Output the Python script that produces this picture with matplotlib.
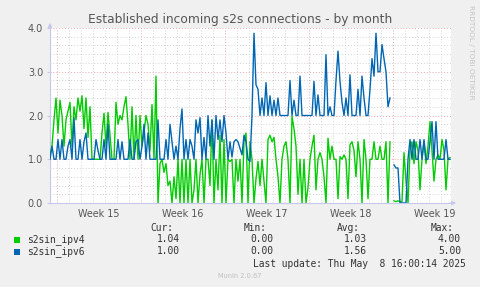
import numpy as np
import matplotlib.pyplot as plt
from matplotlib.patches import Rectangle

# samples every 4 hours, starting at the left edge of the graph
step_h = 4
nan = np.nan

ipv4 = [1.1, 1.3, 1.9, 2.4, 1.6, 2.35, 2.0, 1.3, 1.9, 2.1,
        2.3, 1.3, 2.2, 1.9, 2.4, 2.1, 2.45, 1.7, 2.4, 1.5,
        2.2, 1.0, 1.0, 1.0, 1.0, 1.0, 1.6, 2.05, 1.3, 2.07,
        1.55, 1.0, 1.0, 2.3, 1.8, 2.0, 1.9, 2.2, 2.43, 1.8,
        1.0, 2.2, 1.0, 2.0, 1.0, 2.0, 1.3, 1.6, 2.0, 1.8,
        1.2, 2.25, 1.0, 2.9, 0.0, 0.9, 1.0, 0.7, 0.9, 0.4,
        0.5, 0.0, 0.6, 0.1, 1.0, 0.0, 1.0, 0.0, 1.0, 0.0,
        1.0, 0.0, 0.3, 1.0, 0.0, 0.65, 1.0, 0.0, 1.0, 1.0,
        0.4, 1.9, 0.0, 1.0, 0.3, 1.55, 0.0, 1.45, 0.0, 1.0,
        0.95, 1.0, 0.0, 1.0, 0.5, 1.0, 0.0, 1.4, 1.6, 0.0,
        1.4, 1.0, 0.0, 0.55, 0.95, 0.4, 1.0, 0.5, 0.0, 1.45,
        1.55, 1.4, 1.5, 1.0, 0.6, 0.0, 1.0, 1.3, 1.4, 1.0,
        0.0, 1.98, 1.7, 1.3, 0.2, 1.0, 0.0, 1.0, 0.0, 0.35,
        1.0, 1.3, 1.55, 0.3, 1.0, 1.15, 1.0, 0.6, 0.0, 1.48,
        1.0, 1.3, 1.0, 1.0, 0.1, 1.06, 1.0, 1.1, 1.0, 0.1,
        1.33, 1.4, 1.2, 0.6, 1.4, 1.0, 0.0, 1.45, 1.0, 0.1,
        1.0, 1.0, 1.4, 1.0, 1.0, 1.3, 1.0, 1.0, 1.4, 0.0,
        1.4, nan, 0.05, 0.03, 0.05, 0.03, 0.03, 1.15, 0.5, 0.0,
        1.2, 1.4, 0.9, 1.4, 1.2, 0.3, 1.0, 1.4, 0.9, 1.3,
        1.86, 1.2, 0.5, 1.0, 1.1, 1.0, 1.45, 1.2, 0.3, 1.0,
        1.04]

ipv6 = [1.0, 1.3, 1.0, 1.0, 1.45, 1.0, 1.45, 1.0, 1.0, 1.3,
        1.45, 1.0, 1.95, 1.0, 1.0, 1.45, 1.0, 1.4, 1.6, 1.0,
        1.0, 1.0, 1.0, 1.45, 1.2, 1.0, 1.0, 1.45, 1.0, 1.8,
        1.0, 1.0, 1.0, 1.0, 1.45, 1.0, 1.4, 1.0, 1.0, 1.0,
        1.45, 1.0, 1.0, 1.4, 1.45, 1.0, 1.3, 1.8, 1.0, 1.6,
        1.0, 1.0, 1.0, 1.0, 1.9, 1.0, 1.0, 1.0, 1.45, 1.0,
        1.8, 1.4, 1.0, 1.3, 1.0, 1.7, 2.15, 1.0, 1.45, 1.0,
        1.45, 1.3, 1.0, 1.9, 1.6, 1.95, 1.0, 1.5, 1.0, 2.0,
        1.3, 1.9, 1.0, 2.0, 1.45, 1.9, 1.4, 2.0, 1.6, 1.0,
        1.4, 1.05, 1.4, 1.45, 1.4, 1.25, 1.1, 1.55, 1.4, 1.0,
        0.95, 2.0, 3.88, 2.7, 2.6, 2.0, 2.4, 2.0, 2.75, 2.0,
        2.45, 2.0, 2.35, 2.0, 2.4, 2.0, 2.0, 2.0, 2.0, 2.0,
        2.8, 2.0, 2.35, 2.0, 2.0, 2.9, 2.0, 2.0, 2.0, 2.0,
        2.0, 2.0, 2.78, 2.0, 2.47, 2.0, 2.0, 2.0, 3.39, 2.0,
        2.2, 2.0, 2.0, 2.8, 3.47, 2.78, 2.3, 2.0, 2.4, 2.0,
        2.93, 2.0, 2.0, 2.0, 2.6, 2.0, 2.9, 2.4, 2.0, 2.0,
        2.6, 3.3, 2.9, 3.88, 3.0, 3.0, 3.62, 3.3, 3.0, 2.2,
        2.4, nan, 0.87, 0.8, 0.8, 0.0, 0.0, 0.0, 0.0, 1.0,
        1.45, 1.0, 1.45, 1.0, 1.0, 1.45, 1.0, 1.45, 1.0, 1.0,
        1.4, 1.86, 1.0, 1.86, 1.0, 1.0, 1.0, 1.0, 1.45, 1.0,
        1.0]

week_labels = ['Week 15', 'Week 16', 'Week 17', 'Week 18', 'Week 19']
first_monday_h = 14
span_h = 802

names = ['s2sin_ipv4', 's2sin_ipv6']
colors = ['#00cc00', '#0066b3']
cur = ['1.04', '1.00']
mins = ['0.00', '0.00']
avgs = ['1.03', '1.56']
maxs = ['4.00', '5.00']

W, H = 481, 287
fig = plt.figure(figsize=(W / 100, H / 100), dpi=100, facecolor='#f0f0f0')
ax = fig.add_axes([50 / W, 84 / H, 401 / W, 175 / H])
ax.set_facecolor('white')

t = np.arange(len(ipv4)) * step_h
ax.plot(t, ipv4, color=colors[0], lw=1.0, zorder=3)
ax.plot(t, ipv6, color=colors[1], lw=1.0, zorder=4)

# grid: days and 0.2 steps dotted grey, weeks and units dotted red
dot = (0, (1, 2))
for h in np.arange(first_monday_h, span_h, 24):
    major = (h - first_monday_h) % 168 == 0
    ax.axvline(h, color='#e8a8a8' if major else '#d4d4d4', ls=dot, lw=0.7, zorder=1)
for v in np.arange(0.2, 4.01, 0.2):
    major = abs(v - round(v)) < 1e-6
    ax.axhline(v, color='#e8a8a8' if major else '#d4d4d4', ls=dot, lw=0.7, zorder=1)

ax.set_xlim(0, span_h)
ax.set_ylim(0, 4)
for s in ['top', 'right']:
    ax.spines[s].set_visible(False)
for s in ['left', 'bottom']:
    ax.spines[s].set_color('#c8c8ee')
    ax.spines[s].set_linewidth(0.8)
ax.annotate('', xy=(0, 1.045), xytext=(0, 0.99), xycoords='axes fraction',
            arrowprops=dict(arrowstyle='-|>', color='#c8c8ee', lw=0.8, mutation_scale=6))
ax.annotate('', xy=(1.02, 0), xytext=(0.99, 0), xycoords='axes fraction',
            arrowprops=dict(arrowstyle='-|>', color='#c8c8ee', lw=0.8, mutation_scale=6))

ax.set_yticks([0, 1, 2, 3, 4])
ax.set_yticklabels(['0.0', '1.0', '2.0', '3.0', '4.0'])
ax.set_xticks(first_monday_h + 84 + 168 * np.arange(len(week_labels)))
ax.set_xticklabels(week_labels)
ax.tick_params(axis='y', length=2, color='#c8c8ee', labelsize=6.9, labelcolor='#555555', pad=3)
ax.tick_params(axis='x', length=0, labelsize=6.9, labelcolor='#555555', pad=4)

def px(x, y):
    return x / W, 1 - y / H

fig.text(*px(240, 19), 'Established incoming s2s connections - by month',
         ha='center', va='center', fontsize=8.8, color='#555555')
fig.text(*px(471, 5), 'RRDTOOL / TOBI OETIKER', rotation=270, ha='center', va='top',
         fontsize=5.3, color='#c4c4c4')

mono = 'DejaVu Sans Mono'
fs = 6.9
for label, xr in zip(['Cur:', 'Min:', 'Avg:', 'Max:'], [173, 267, 360, 454]):
    fig.text(*px(xr, 228), label, ha='right', va='center', family=mono, fontsize=fs, color='#333333')
rows_y = [239.5, 251.5]
for i in range(2):
    y = rows_y[i]
    fig.patches.append(Rectangle(px(14, y + 3), 6 / W, 6 / H, transform=fig.transFigure,
                                 facecolor=colors[i], edgecolor='none'))
    fig.text(*px(27, y), names[i], ha='left', va='center', family=mono, fontsize=fs, color='#333333')
    for val, xr in zip([cur[i], mins[i], avgs[i], maxs[i]], [180, 273, 367, 461]):
        fig.text(*px(xr, y), val, ha='right', va='center', family=mono, fontsize=fs, color='#333333')
fig.text(*px(466, 264), 'Last update: Thu May  8 16:00:14 2025', ha='right', va='center',
         family=mono, fontsize=fs, color='#333333')
fig.text(*px(240, 276), 'Munin 2.0.67', ha='center', va='center', fontsize=4.8, color='#c0c0c0')

fig.savefig('out.png', dpi=100, facecolor=fig.get_facecolor())
